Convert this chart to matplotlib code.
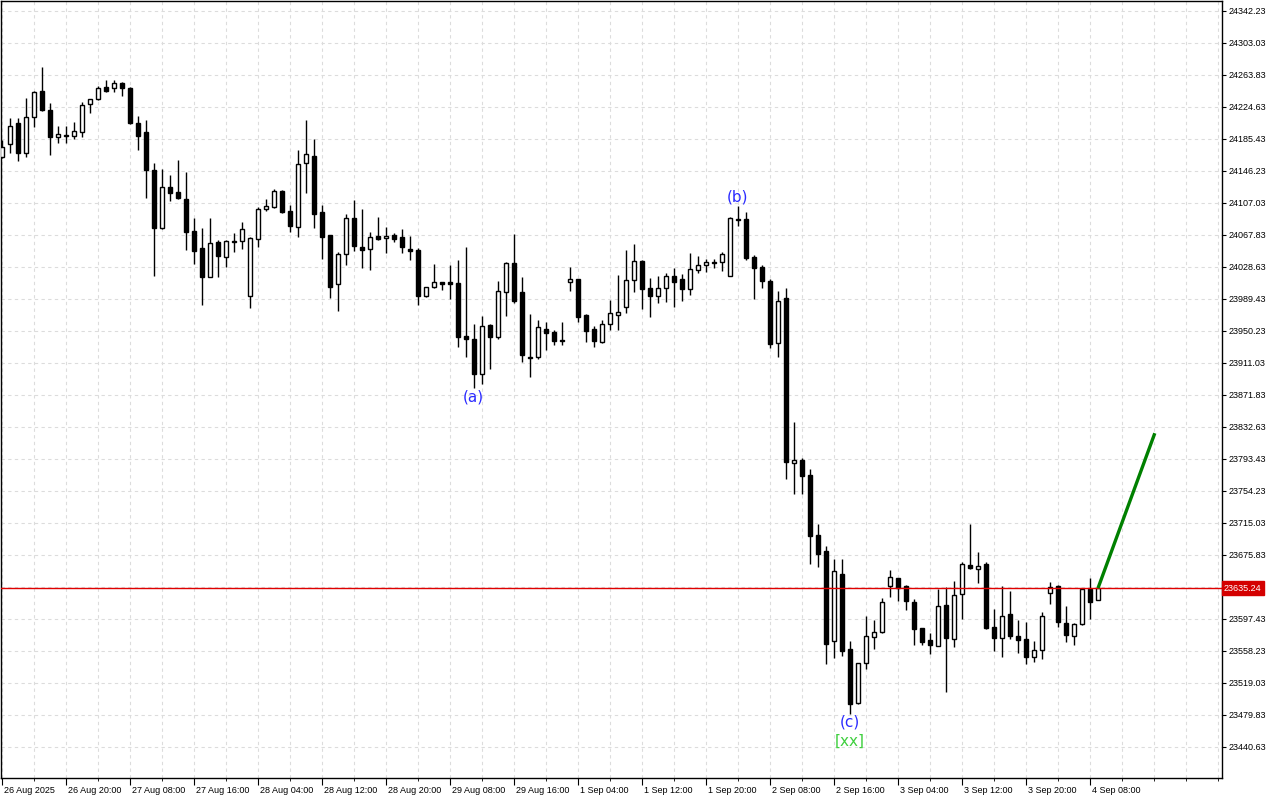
import matplotlib
matplotlib.use("Agg")
import matplotlib.pyplot as plt
import matplotlib.transforms as mtransforms
import numpy as np

# ---------------- data ----------------
opens = [24163.4, 24179.3, 24205.0, 24168.3, 24212.4, 24244.2, 24220.9, 24188.2, 24189.7, 24189.1,
         24193.6, 24227.9, 24234.1, 24248.8, 24247.5, 24253.7, 24247.9, 24205.0, 24194.0, 24147.5,
         24076.0, 24126.6, 24120.5, 24111.9, 24072.7, 24051.9, 24016.7, 24059.3, 24040.5, 24059.5,
         24060.1, 23993.5, 24062.6, 24099.3, 24102.5, 24121.7, 24097.2, 24078.2, 24155.7, 24164.6,
         24095.6, 24067.5, 24007.4, 24044.2, 24088.3, 24052.8, 24050.3, 24066.2, 24063.8, 24067.5,
         24065.0, 24050.3, 24049.5, 23993.5, 24003.8, 24009.9, 24009.9, 24008.7, 23943.7, 23940.4,
         23897.9, 23957.6, 23943.2, 23998.4, 24033.5, 23998.0, 23918.7, 23918.0, 23952.7, 23949.0,
         23939.2, 24009.9, 24013.9, 23969.8, 23952.7, 23937.1, 23958.4, 23969.5, 23980.0, 24012.7,
         24036.0, 24002.9, 23993.5, 24002.5, 24017.2, 24013.9, 24002.0, 24024.6, 24030.7, 24034.8,
         24034.4, 24018.0, 24087.1, 24087.4, 24041.2, 24029.0, 24011.8, 23935.2, 23990.3, 23788.9,
         23792.2, 23773.8, 23700.3, 23680.7, 23570.8, 23652.6, 23560.7, 23494.2, 23543.2, 23575.0,
         23581.1, 23637.9, 23647.3, 23637.9, 23617.9, 23586.4, 23571.7, 23564.7, 23614.2, 23572.6,
         23627.7, 23663.2, 23659.0, 23664.4, 23588.0, 23573.8, 23603.2, 23576.2, 23572.6, 23550.5,
         23559.1, 23628.9, 23637.9, 23592.5, 23576.2, 23590.9, 23633.8, 23621.1]
highs = [24184.2, 24211.1, 24211.1, 24235.6, 24244.2, 24273.6, 24229.5, 24201.3, 24201.3, 24206.2,
         24230.7, 24235.0, 24250.3, 24257.7, 24257.7, 24255.2, 24249.1, 24213.6, 24208.7, 24155.7,
         24148.3, 24141.3, 24159.7, 24145.0, 24088.7, 24076.8, 24088.7, 24061.7, 24061.1, 24069.9,
         24083.8, 24064.8, 24102.1, 24111.9, 24123.6, 24123.0, 24104.6, 24172.0, 24208.7, 24185.1,
         24104.6, 24068.4, 24047.0, 24093.6, 24110.3, 24099.3, 24071.1, 24089.9, 24077.6, 24070.6,
         24074.8, 24066.6, 24051.9, 24003.8, 24032.3, 24010.3, 24030.7, 24037.2, 24052.8, 23958.8,
         23968.2, 23958.2, 24011.5, 24034.4, 24069.1, 24016.4, 23970.7, 23963.7, 23961.3, 23951.5,
         23961.3, 24028.3, 24014.5, 23971.0, 23956.3, 23963.7, 23988.2, 24018.8, 24049.5, 24056.8,
         24036.6, 24015.2, 24017.6, 24020.9, 24027.4, 24020.4, 24045.8, 24042.1, 24038.1, 24038.1,
         24047.4, 24090.2, 24103.4, 24095.6, 24043.3, 24030.7, 24013.6, 23999.6, 24002.5, 23839.1,
         23794.3, 23781.2, 23713.8, 23686.9, 23670.9, 23670.9, 23570.5, 23544.1, 23601.1, 23596.2,
         23622.8, 23657.5, 23647.9, 23639.1, 23621.9, 23587.0, 23580.3, 23634.5, 23636.3, 23644.0,
         23666.9, 23713.8, 23679.1, 23666.9, 23609.7, 23637.5, 23631.7, 23596.2, 23593.8, 23570.1,
         23605.6, 23642.7, 23638.5, 23613.4, 23592.2, 23634.4, 23647.7, 23636.0]
lows = [24162.1, 24168.3, 24158.5, 24163.4, 24200.1, 24219.7, 24165.8, 24180.5, 24180.5, 24185.8,
        24188.2, 24216.9, 24233.2, 24243.0, 24243.4, 24238.5, 24203.4, 24172.0, 24113.5, 24018.0,
        24075.2, 24109.8, 24112.3, 24049.5, 24032.3, 23982.1, 24015.8, 24016.7, 24029.0, 24047.4,
        24051.0, 23978.8, 24053.5, 24097.6, 24101.5, 24095.1, 24071.9, 24065.4, 24118.9, 24076.0,
        24038.8, 23991.0, 23975.1, 24031.1, 24048.6, 24027.8, 24024.6, 24062.3, 24046.1, 24059.6,
        24046.1, 24037.2, 23982.1, 23992.2, 24003.1, 24000.8, 23989.1, 23931.0, 23918.7, 23880.0,
        23885.3, 23904.0, 23940.1, 23969.0, 23984.9, 23912.6, 23893.5, 23915.6, 23927.0, 23933.4,
        23933.4, 23999.2, 23961.6, 23937.1, 23931.0, 23935.9, 23951.5, 23951.5, 23971.9, 23998.4,
        23976.8, 23967.7, 23984.2, 23986.1, 23980.0, 23987.3, 23994.3, 24020.9, 24022.9, 24027.8,
        24024.1, 24017.0, 24079.2, 24037.2, 23990.0, 24003.3, 23929.8, 23918.7, 23769.5, 23750.2,
        23750.2, 23664.8, 23661.5, 23542.7, 23550.0, 23552.1, 23480.7, 23493.5, 23536.2, 23560.7,
        23580.5, 23624.7, 23619.8, 23608.5, 23565.9, 23565.9, 23554.6, 23564.1, 23508.4, 23563.5,
        23597.8, 23658.3, 23641.9, 23584.8, 23558.6, 23551.2, 23573.3, 23556.1, 23542.7, 23545.1,
        23548.8, 23615.2, 23588.0, 23569.6, 23565.9, 23590.3, 23597.4, 23620.3]
closes = [24175.6, 24201.3, 24168.6, 24212.4, 24243.0, 24220.9, 24187.9, 24191.2, 24190.7, 24194.9,
          24226.7, 24234.1, 24247.5, 24244.6, 24253.7, 24247.5, 24205.4, 24189.1, 24147.8, 24076.8,
          24126.3, 24119.6, 24113.2, 24071.9, 24048.6, 24016.7, 24057.7, 24042.5, 24060.1, 24060.1,
          24074.8, 24063.8, 24099.3, 24103.0, 24121.7, 24096.4, 24079.2, 24154.8, 24167.1, 24093.6,
          24065.7, 24003.8, 24044.2, 24088.3, 24054.7, 24049.8, 24065.0, 24063.3, 24067.0, 24063.3,
          24053.5, 24048.6, 23993.5, 24003.8, 24009.9, 24008.2, 24008.2, 23943.2, 23940.1, 23897.6,
          23956.0, 23943.2, 23999.2, 24033.5, 23987.3, 23921.2, 23917.5, 23954.8, 23948.1, 23938.3,
          23938.5, 24013.6, 23967.7, 23950.6, 23938.3, 23958.4, 23971.9, 23973.1, 24012.7, 24036.0,
          24002.0, 23993.5, 24002.9, 24017.2, 24009.9, 24002.0, 24025.8, 24030.7, 24034.4, 24033.9,
          24044.2, 24088.3, 24086.2, 24039.7, 24027.8, 24011.8, 23934.3, 23987.0, 23790.1, 23792.2,
          23773.0, 23699.5, 23677.4, 23567.2, 23655.9, 23558.6, 23493.3, 23543.5, 23576.2, 23581.1,
          23617.9, 23648.9, 23635.0, 23619.8, 23585.5, 23569.6, 23565.9, 23613.0, 23574.5, 23626.5,
          23664.4, 23660.3, 23662.0, 23586.8, 23574.5, 23601.5, 23576.6, 23572.1, 23551.2, 23559.1,
          23600.7, 23636.3, 23593.4, 23577.5, 23590.9, 23633.8, 23618.6, 23635.24]

x_tick_labels = ["26 Aug 2025", "26 Aug 20:00", "27 Aug 08:00", "27 Aug 16:00", "28 Aug 04:00",
                 "28 Aug 12:00", "28 Aug 20:00", "29 Aug 08:00", "29 Aug 16:00", "1 Sep 04:00",
                 "1 Sep 12:00", "1 Sep 20:00", "2 Sep 08:00", "2 Sep 16:00", "3 Sep 04:00",
                 "3 Sep 12:00", "3 Sep 20:00", "4 Sep 08:00"]
x_tick_index = [0, 8, 16, 24, 32, 40, 48, 56, 64, 72, 80, 88, 96, 104, 112, 120, 128, 136]

price_ticks = [23440.63, 23479.83, 23519.03, 23558.23, 23597.43, 23636.63, 23675.83, 23715.03,
               23754.23, 23793.43, 23832.63, 23871.83, 23911.03, 23950.23, 23989.43, 24028.63,
               24067.83, 24107.03, 24146.23, 24185.43, 24224.63, 24263.83, 24303.03, 24342.23]

current_price = 23635.24
forecast_x = [137, 144.1]
forecast_y = [23635.24, 23825.0]

wave_text = ["(a)", "(b)", "(c)"]
wave_x = [58.9, 91.9, 106.0]
wave_y = [23869.0, 24114.0, 23471.0]
tag_text = "[xx]"
tag_x = 106.0
tag_y = 23447.0

# ---------------- figure ----------------
W, H = 1280, 800
fig = plt.figure(figsize=(W / 100, H / 100), dpi=100)
ax = fig.add_axes([1 / W, 22 / H, 1221 / W, 777 / H])
fig.patch.set_facecolor("white")
ax.set_facecolor("white")

n = len(opens)
idx = np.arange(n)
o = np.array(opens); c = np.array(closes); h = np.array(highs); l = np.array(lows)
up = c >= o

# wicks
ax.vlines(idx, l, h, color="black", linewidth=1.0, zorder=3)
# bodies
bottoms = np.minimum(o, c)
heights = np.maximum(np.abs(c - o), 0.3)
ax.bar(idx[up], heights[up], bottom=bottoms[up], width=0.56, color="white",
       edgecolor="black", linewidth=1.0, zorder=4)
ax.bar(idx[~up], heights[~up], bottom=bottoms[~up], width=0.56, color="black",
       edgecolor="black", linewidth=1.0, zorder=4)

# current price line
ax.axhline(current_price, color="#e00000", linewidth=1.0, zorder=5)

# forecast line
ax.plot(forecast_x, forecast_y, color="#008000", linewidth=2.4, zorder=6,
        solid_capstyle="butt")

# wave labels
for t, xx, yy in zip(wave_text, wave_x, wave_y):
    ax.text(xx, yy, t, color="#2b2bff", fontsize=11, ha="center", va="center",
            family="DejaVu Sans", zorder=7)
ax.text(tag_x, tag_y, tag_text, color="#3fcf3f", fontsize=11, ha="center", va="center",
        family="DejaVu Sans", zorder=7)

# limits (candle i centred at pixel 2 + 8 i)
ax.set_xlim(-0.125, 152.5)
ax.set_ylim(23402.65, 24354.48)

# grid
ax.set_xticks(np.arange(0, 153, 4), minor=True)
ax.set_xticks(x_tick_index)
ax.set_xticklabels(x_tick_labels)
ax.set_yticks(price_ticks)
ylabels = ["%.2f" % p for p in price_ticks]
ylabels = ["" if abs(p - current_price) < 5 else s for p, s in zip(price_ticks, ylabels)]
ax.set_yticklabels(ylabels)
ax.grid(True, which="both", axis="x", color="#dcdcdc", linestyle=(0, (3, 3)), linewidth=0.8, zorder=0)
ax.grid(True, which="major", axis="y", color="#dcdcdc", linestyle=(0, (3, 3)), linewidth=0.8, zorder=0)
ax.set_axisbelow(True)

ax.yaxis.tick_right()
ax.tick_params(axis="y", which="major", direction="out", length=3, width=0.8, pad=2,
               labelsize=6.5, labelfontfamily="Liberation Sans", colors="black")
ax.tick_params(axis="x", which="major", direction="out", length=5, width=0.8, pad=1,
               labelsize=6.5, labelfontfamily="Liberation Sans")
ax.tick_params(axis="x", which="minor", direction="out", length=2, width=0.6)
for lab in ax.get_xticklabels():
    lab.set_ha("left")
    lab.set_transform(lab.get_transform() + mtransforms.ScaledTranslation(2 / 100, 0, fig.dpi_scale_trans))

for sp in ax.spines.values():
    sp.set_color("black")
    sp.set_linewidth(1.0)

# current price label box
trans = mtransforms.blended_transform_factory(ax.transAxes, ax.transData)
ax.text(1.0015, current_price, "%.2f" % current_price, transform=trans, ha="left", va="center",
        fontsize=6.5, family="Liberation Sans", color="white", zorder=10, clip_on=False,
        bbox=dict(boxstyle="square,pad=0.25", facecolor="#d40000", edgecolor="#d40000"))

fig.savefig("out.png", dpi=100, facecolor="white")
